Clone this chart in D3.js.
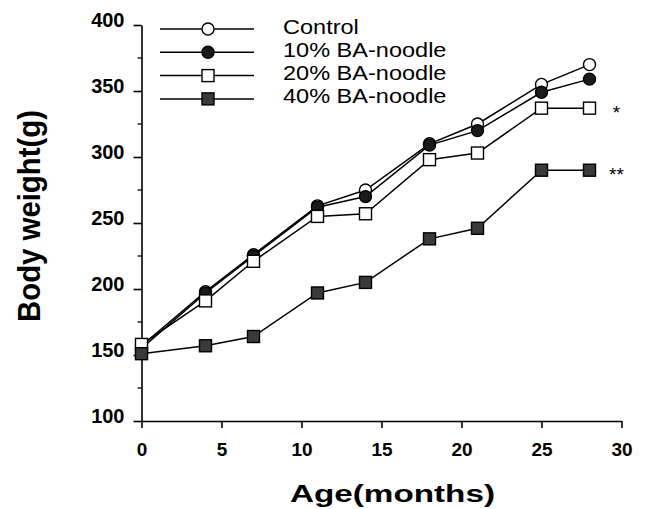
<!DOCTYPE html>
<html lang="en">
<head>
  <meta charset="UTF-8">
  <script src="https://d3js.org/d3.v7.min.js"></script>
  <title>Body weight</title>
  <style>
    body {
      margin: 0;
      background: #fff;
      font-family: "Liberation Sans", Arial, sans-serif;
    }
    .axis path, .axis line {
      stroke: #000;
      stroke-width: 1.6;
    }
    .axis text {
      font-family: "Liberation Sans", Arial, sans-serif;
      font-weight: bold;
      fill: #000;
    }
  </style>
</head>
<body>
<script>
  // data
  const months = [0, 4, 7, 11, 14, 18, 21, 25, 28];
  const control = [157, 198, 226, 263, 275, 310, 325, 355, 370];
  const ba10 = [155, 197, 225, 262, 270, 309, 320, 349, 359];
  const ba20 = [158, 191, 221, 255, 257, 298, 303, 337, 337];
  const ba40 = [151, 157, 164, 197, 205, 238, 246, 290, 290];
  const seriesNames = ["Control", "10% BA-noodle", "20% BA-noodle", "40% BA-noodle"];
  const markers = ["circle-open", "circle-filled", "square-open", "square-filled"];
  const xTicks = [0, 5, 10, 15, 20, 25, 30];
  const yTicks = [100, 150, 200, 250, 300, 350, 400];
  const yMinor = [125, 175, 225, 275, 325, 375];
  const stars = [{ series: 2, text: "*" }, { series: 3, text: "**" }];

  const series = [control, ba10, ba20, ba40].map((vals, i) => ({
    name: seriesNames[i],
    marker: markers[i],
    values: months.map((m, j) => ({ x: m, y: vals[j] }))
  }));

  const width = 645, height = 509;
  const svg = d3.select("body").append("svg")
    .attr("width", width)
    .attr("height", height);

  const x = d3.scaleLinear().domain([0, 30]).range([141.5, 621.5]);
  const y = d3.scaleLinear().domain([100, 400]).range([421, 25]);

  // x axis
  const xAxis = svg.append("g")
    .attr("class", "axis")
    .attr("transform", `translate(0,${y(100)})`)
    .call(d3.axisBottom(x).tickValues(xTicks).tickSize(7).tickPadding(15).tickSizeOuter(0));
  xAxis.selectAll("text").style("font-size", "19px");

  // y axis
  const yAxis = svg.append("g")
    .attr("class", "axis")
    .attr("transform", `translate(${x(0)},0)`)
    .call(d3.axisLeft(y).tickValues(yTicks).tickSize(8).tickPadding(9).tickSizeOuter(0));
  yAxis.selectAll("text").style("font-size", "20px").attr("y", -5);

  // minor ticks on y
  svg.append("g")
    .selectAll("line")
    .data(yMinor)
    .join("line")
    .attr("x1", x(0) - 4)
    .attr("x2", x(0))
    .attr("y1", d => y(d))
    .attr("y2", d => y(d))
    .attr("stroke", "#000")
    .attr("stroke-width", 1.3);

  // axis titles
  svg.append("text")
    .attr("x", 290)
    .attr("y", 502)
    .attr("textLength", 205)
    .attr("lengthAdjust", "spacingAndGlyphs")
    .style("font-size", "23px")
    .style("font-weight", "bold")
    .text("Age(months)");

  svg.append("text")
    .attr("transform", "translate(40,322) rotate(-90)")
    .attr("textLength", 212)
    .attr("lengthAdjust", "spacingAndGlyphs")
    .style("font-size", "32px")
    .style("font-weight", "bold")
    .text("Body weight(g)");

  function drawMarker(g, type, cx, cy) {
    const fill = type.endsWith("filled") ? (type.startsWith("circle") ? "#1a1a1a" : "#3a3a3a") : "#fff";
    if (type.startsWith("circle")) {
      g.append("circle")
        .attr("cx", cx).attr("cy", cy).attr("r", 6)
        .attr("fill", fill).attr("stroke", "#000").attr("stroke-width", 1.4);
    } else {
      g.append("rect")
        .attr("x", cx - 6).attr("y", cy - 6)
        .attr("width", 12).attr("height", 12)
        .attr("fill", fill).attr("stroke", "#000").attr("stroke-width", 1.4);
    }
  }

  const line = d3.line().x(d => x(d.x)).y(d => y(d.y));

  series.forEach(s => {
    const g = svg.append("g");
    g.append("path")
      .datum(s.values)
      .attr("d", line)
      .attr("fill", "none")
      .attr("stroke", "#000")
      .attr("stroke-width", 1.5);
    s.values.forEach(d => drawMarker(g, s.marker, x(d.x), y(d.y)));
  });

  // significance marks
  stars.forEach(st => {
    const last = series[st.series].values[months.length - 1];
    svg.append("text")
      .attr("x", x(last.x) + 27)
      .attr("y", y(last.y) + 11)
      .attr("text-anchor", "middle")
      .style("font-size", "19px")
      .text(st.text);
  });

  // legend
  const legend = svg.append("g");
  series.forEach((s, i) => {
    const ly = 29 + i * 23.3;
    const g = legend.append("g");
    g.append("line")
      .attr("x1", 160).attr("x2", 254)
      .attr("y1", ly).attr("y2", ly)
      .attr("stroke", "#000").attr("stroke-width", 1.5);
    drawMarker(g, s.marker, 208, ly);
    const t = g.append("text")
      .attr("x", 283)
      .attr("y", ly + 4.5)
      .style("font-size", "21px")
      .text(s.name);
    // the scanned figure is a bit wider than the font
    const w = t.node().getComputedTextLength();
    t.attr("textLength", w * 1.12).attr("lengthAdjust", "spacingAndGlyphs");
  });
</script>
</body>
</html>
